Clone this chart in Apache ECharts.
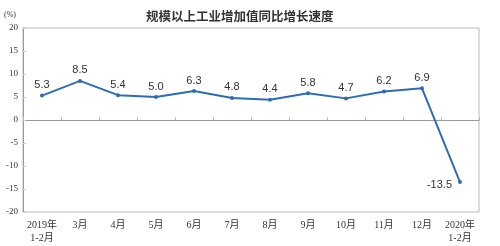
<!DOCTYPE html>
<html><head><meta charset="utf-8">
<script src="https://cdn.jsdelivr.net/npm/echarts@6/dist/echarts.min.js"></script>
<style>html,body{margin:0;padding:0;background:#fff}#c{width:500px;height:246px}</style>
</head><body><div id="c"></div>
<script>
const categories = ['2019年\n1-2月','3月','4月','5月','6月','7月','8月','9月','10月','11月','12月','2020年\n1-2月'];
const values = [5.3, 8.5, 5.4, 5.0, 6.3, 4.8, 4.4, 5.8, 4.7, 6.2, 6.9, -13.5];
const yTicks = [-20, -15, -10, -5, 0, 5, 10, 15, 20];
const chart = echarts.init(document.getElementById('c'));
const serif = '"Liberation Serif","Noto Sans CJK SC",serif';
chart.setOption({
  animation: false,
  title: {text: '规模以上工业增加值同比增长速度', left: 141, top: 5,
    textStyle: {fontSize: 12.5, fontWeight: 'bold', color: '#333', fontFamily: '"Noto Sans CJK SC",sans-serif'}},
  graphic: [{type: 'text', left: 4, top: 11, style: {text: '(%)', fontSize: 8, fill: '#333', fontFamily: serif}}],
  grid: {left: 23, right: 21, top: 28, bottom: 34, show: true, borderColor: '#bbb', borderWidth: 1},
  xAxis: {type: 'category', data: categories, boundaryGap: true,
    axisLine: {lineStyle: {color: '#999'}},
    axisTick: {show: true, inside: true, length: 3, lineStyle: {color: '#bbb'}},
    axisLabel: {fontSize: 10, color: '#333', fontFamily: serif, margin: 7, lineHeight: 13, interval: 0}},
  yAxis: {type: 'value', min: yTicks[0], max: yTicks[yTicks.length-1], interval: 5,
    axisLine: {show: true, lineStyle: {color: '#999'}},
    axisTick: {show: true, inside: true, length: 3, lineStyle: {color: '#ccc'}},
    splitLine: {show: false},
    axisLabel: {fontSize: 9, color: '#333', fontFamily: serif, margin: 5}},
  series: [{type: 'line', symbol: 'circle', symbolSize: 4,
    lineStyle: {color: '#2e6db5', width: 2}, itemStyle: {color: '#2e6db5'},
    label: {show: true, position: 'top', distance: 3, fontSize: 11, color: '#333',
      fontFamily: '"Liberation Sans",Arial,sans-serif', formatter: p => p.value.toFixed(1)},
    data: values.map((v, i) => i === values.length - 1 ? {value: v, label: {position: 'left', distance: 6, offset: [0, 3]}} : v)
  }]
});
</script></body></html>
